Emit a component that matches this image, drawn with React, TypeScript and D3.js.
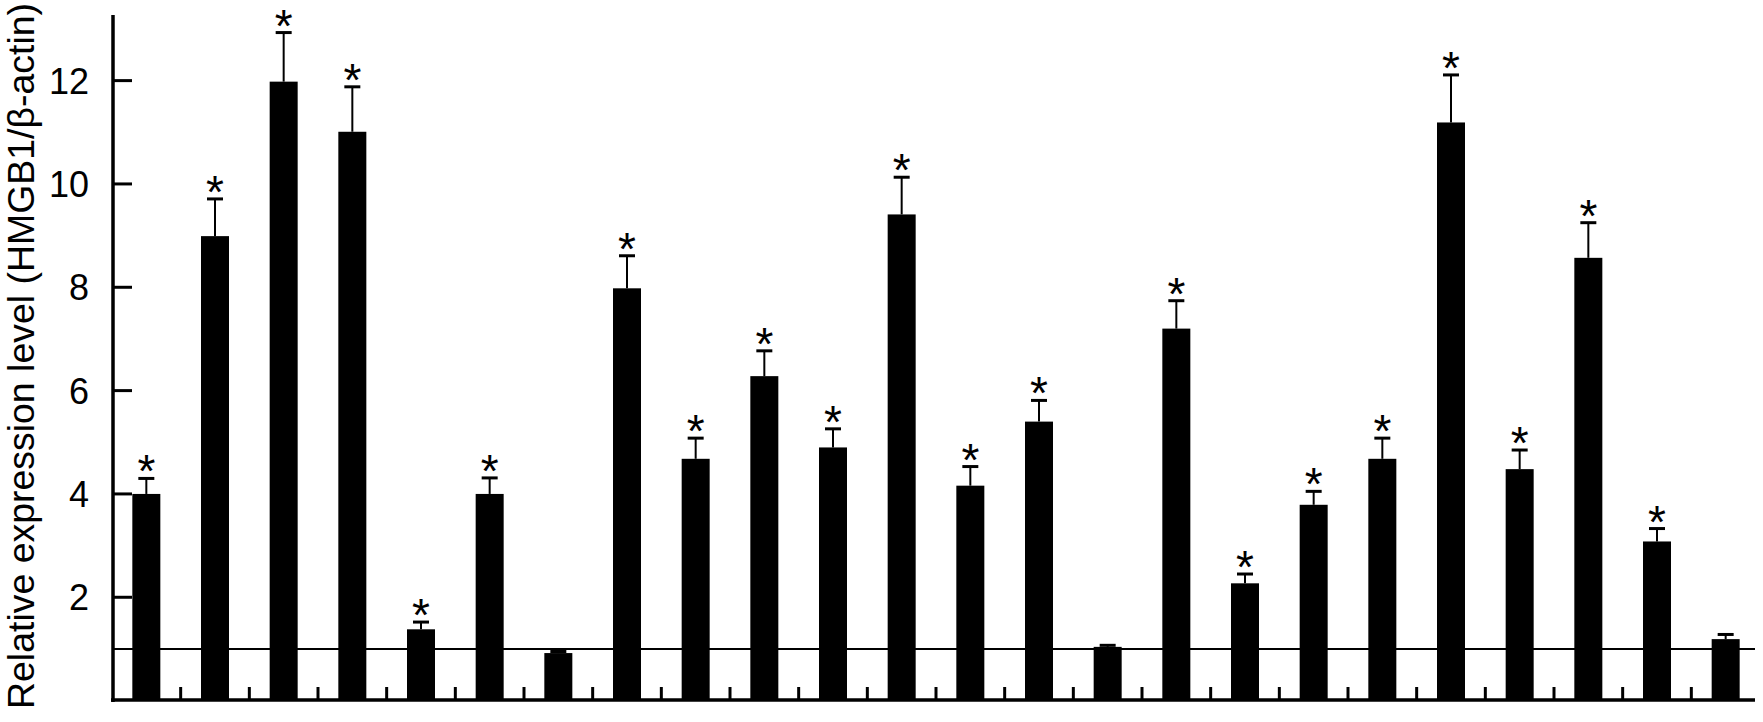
import React from 'react';
import * as d3 from 'd3';

// one entry per bar, left to right (no x labels in the figure)
const groups = [
  'g1', 'g2', 'g3', 'g4', 'g5', 'g6', 'g7', 'g8', 'g9', 'g10', 'g11', 'g12',
  'g13', 'g14', 'g15', 'g16', 'g17', 'g18', 'g19', 'g20', 'g21', 'g22', 'g23', 'g24',
];
const means = [
  4.0, 8.99, 11.98, 11.01, 1.38, 4.0, 0.92, 7.98, 4.68, 6.28, 4.9, 9.41,
  4.16, 5.4, 1.04, 7.2, 2.27, 3.79, 4.68, 11.19, 4.48, 8.57, 3.08, 1.19,
];
const errors = [
  0.3, 0.72, 0.95, 0.87, 0.14, 0.31, 0.03, 0.63, 0.4, 0.49, 0.36, 0.72,
  0.37, 0.41, 0.03, 0.54, 0.18, 0.26, 0.4, 0.92, 0.37, 0.68, 0.25, 0.09,
];
const significant = [
  true, true, true, true, true, true, false, true, true, true, true, true,
  true, true, false, true, true, true, true, true, true, true, true, false,
];
const yTicks = [2, 4, 6, 8, 10, 12];
const baseline = 1;
const yTitle = 'Relative expression level (HMGB1/\u03b2-actin)';

const W = 1763;
const H = 722;
const font = '"Liberation Sans", Arial, sans-serif';

export default function App() {
  const x = d3.scaleBand<string>().domain(groups).range([112, 1760]);
  const y = d3.scaleLinear().domain([0, 13.27]).range([700.6, 15]);
  const barW = 28;
  const axisX = 113;
  const axisEnd = 1755;

  return (
    <svg
      width={W}
      height={H}
      style={{ position: 'absolute', left: 0, top: 0, display: 'block', background: '#fff' }}
    >
      {/* y title */}
      <text
        transform="translate(34,356) rotate(-90)"
        textAnchor="middle"
        fontFamily={font}
        fontSize={37.5}
        textLength={706}
        lengthAdjust="spacingAndGlyphs"
      >
        {yTitle}
      </text>

      {/* reference line at 1 */}
      <line x1={axisX} x2={axisEnd} y1={y(baseline)} y2={y(baseline)} stroke="#000" strokeWidth={2} />

      {/* bars */}
      {groups.map((g, i) => {
        const cx = (x(g) as number) + x.bandwidth() / 2;
        return (
          <rect key={g} x={cx - barW / 2} y={y(means[i])} width={barW} height={y(0) - y(means[i])} fill="#000" />
        );
      })}

      {/* error bars + asterisks */}
      {groups.map((g, i) => {
        const cx = (x(g) as number) + x.bandwidth() / 2;
        const top = y(means[i] + errors[i]);
        return (
          <g key={g}>
            <line x1={cx} x2={cx} y1={y(means[i])} y2={top} stroke="#000" strokeWidth={2} />
            <line x1={cx - 8} x2={cx + 8} y1={top} y2={top} stroke="#000" strokeWidth={3} />
            {significant[i] && (
              <text x={cx} y={top + 9} textAnchor="middle" fontFamily={font} fontSize={46}>
                *
              </text>
            )}
          </g>
        );
      })}

      {/* x ticks between bars */}
      {groups.slice(1).map((g) => (
        <line key={g} x1={x(g)} x2={x(g)} y1={700} y2={687} stroke="#000" strokeWidth={3} />
      ))}

      {/* y axis */}
      <line x1={axisX} x2={axisX} y1={15} y2={702} stroke="#000" strokeWidth={3.5} />
      {yTicks.map((t) => (
        <g key={t}>
          <line x1={axisX} x2={axisX + 19} y1={y(t)} y2={y(t)} stroke="#000" strokeWidth={3} />
          <text x={89} y={y(t)} dy="0.36em" textAnchor="end" fontFamily={font} fontSize={36}>
            {t}
          </text>
        </g>
      ))}

      {/* x axis */}
      <line x1={axisX - 2} x2={axisEnd} y1={700} y2={700} stroke="#000" strokeWidth={3.5} />
    </svg>
  );
}
